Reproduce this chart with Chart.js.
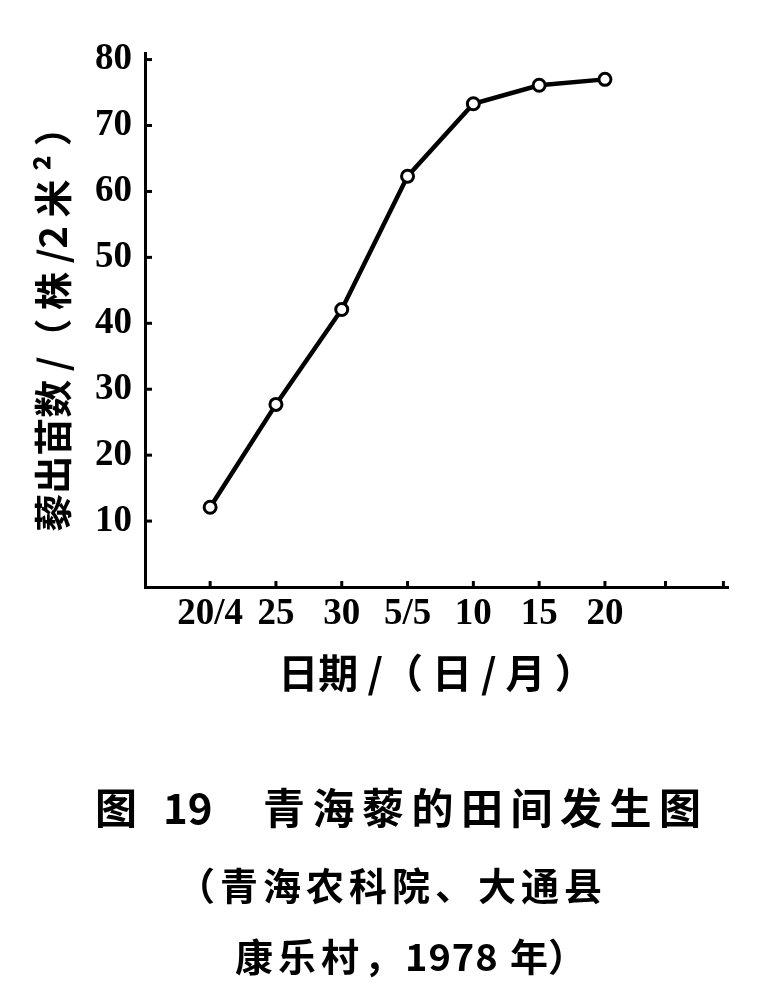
<!DOCTYPE html>
<html><head><meta charset="utf-8">
<script src="https://cdn.jsdelivr.net/npm/chart.js@4"></script>
<style>
html,body{margin:0;padding:0;background:#fff;}
#wrap{position:relative;width:777px;height:999px;}
canvas{position:absolute;left:0;top:0;}
.cap{position:absolute;font-family:"Noto Sans CJK SC";font-weight:700;color:#000;white-space:pre;line-height:1;}
</style></head>
<body>
<div id="wrap">
<canvas id="c" width="777" height="999"></canvas>
<span class="cap" style="left:95px;top:785px;font-size:42px;">图</span>
<span class="cap" style="left:163px;top:785px;font-size:42px;">19</span>
<span class="cap" style="left:263px;top:785px;font-size:42px;letter-spacing:7.5px;">青海藜的田间发生图</span>
<span class="cap" style="left:177px;top:865px;font-size:38px;letter-spacing:5px;">（青海农科院、大通县</span>
<span class="cap" style="left:235px;top:936px;font-size:38px;letter-spacing:5px;">康乐村，</span>
<span class="cap" style="left:405px;top:936px;font-size:38px;letter-spacing:1px;">1978</span>
<span class="cap" style="left:510px;top:936px;font-size:38px;letter-spacing:0px;">年）</span>
</div>
<script>
const categories = ["20/4","25","30","5/5","10","15","20"];
const seedlings = [12.1, 27.7, 42.1, 62.3, 73.3, 76.1, 77.0];
const xTickValues = [0,1,2,3,4,5,6,6.92,7.8];
const xTickLabels = ["20/4","25","30","5/5","10","15","20","",""];
const yTickValues = [10,20,30,40,50,60,70,80];

const tickMarks = {
  id:'tickMarks',
  afterDraw(chart){
    const ctx = chart.ctx, xs = chart.scales.x, ys = chart.scales.y;
    const ca = chart.chartArea;
    ctx.save();
    ctx.strokeStyle = '#000'; ctx.lineWidth = 3;
    ys.ticks.forEach(t => {
      const y = ys.getPixelForValue(t.value);
      ctx.beginPath(); ctx.moveTo(ca.left, y); ctx.lineTo(ca.left + 7, y); ctx.stroke();
    });
    xs.ticks.forEach(t => {
      const x = xs.getPixelForValue(t.value);
      ctx.beginPath(); ctx.moveTo(x, ca.bottom); ctx.lineTo(x, ca.bottom - 6); ctx.stroke();
    });
    ctx.restore();
  }
};

new Chart(document.getElementById('c'), {
  type:'line',
  data:{
    datasets:[{
      data: seedlings.map((v,i)=>({x:i,y:v})),
      borderColor:'#000', borderWidth:4.5,
      pointRadius:6, pointBorderWidth:3,
      pointBackgroundColor:'#fff', pointBorderColor:'#000',
      tension:0, clip:false
    }]
  },
  options:{
    responsive:false, animation:false, devicePixelRatio:1,
    layout:{padding:{left:0,top:53,right:49,bottom:292}},
    plugins:{legend:{display:false},tooltip:{enabled:false}},
    scales:{
      x:{
        type:'linear', min:-0.99, max:7.87,
        afterBuildTicks(s){ s.ticks = xTickValues.map(v=>({value:v})); },
        afterFit(s){ s.height = 120; },
        ticks:{ autoSkip:false, maxRotation:0, padding:5, color:'#000',
          font:{family:'"Liberation Serif"',size:37,weight:'bold'},
          callback:(v,i)=>xTickLabels[i] },
        grid:{display:true,drawOnChartArea:false,drawTicks:false},
        border:{display:true,color:'#000',width:3},
        title:{display:true,text:'日期 /（ 日 / 月 ）',color:'#000',
          font:{family:'"Noto Sans CJK SC"',size:40,weight:'bold'},
          padding:{top:0,bottom:10}}
      },
      y:{
        type:'linear', min:0, max:81,
        afterBuildTicks(s){ s.ticks = yTickValues.map(v=>({value:v})); },
        afterFit(s){ s.width = 145; },
        ticks:{ padding:13, color:'#000',
          font:{family:'"Liberation Serif"',size:37,weight:'bold'} },
        grid:{display:true,drawOnChartArea:false,drawTicks:false},
        border:{display:true,color:'#000',width:3},
        title:{display:true,text:'藜出苗数 /（ 株 /2 米 ² ）',color:'#000',
          font:{family:'"Noto Sans CJK SC"',size:38,weight:'bold'},
          padding:{top:30,bottom:0}}
      }
    }
  },
  plugins:[tickMarks]
});
</script>
</body></html>
